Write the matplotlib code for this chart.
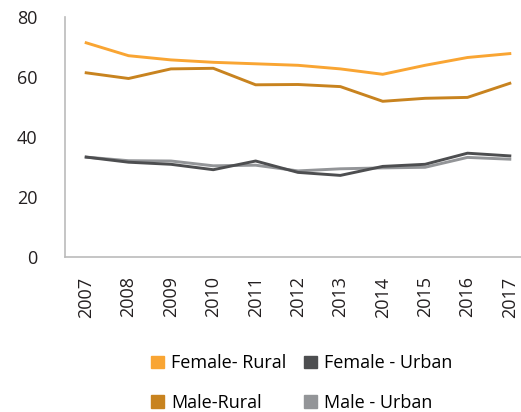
import matplotlib.pyplot as plt
from matplotlib.patches import Patch

years = ["2007", "2008", "2009", "2010", "2011", "2012", "2013", "2014", "2015", "2016", "2017"]
female_rural = [71.4, 67.1, 65.7, 64.9, 64.4, 63.9, 62.7, 60.9, 63.9, 66.5, 67.8]
male_rural = [61.4, 59.5, 62.7, 62.9, 57.4, 57.5, 56.8, 51.9, 52.9, 53.2, 57.9]
female_urban = [33.3, 31.6, 30.9, 29.1, 32.0, 28.2, 27.2, 30.2, 30.9, 34.6, 33.7]
male_urban = [33.3, 32.1, 32.0, 30.4, 30.6, 28.7, 29.4, 29.7, 29.9, 33.2, 32.6]

# legend fills column by column: first column = rural, second = urban
labels = ["Female- Rural", "Male-Rural", "Female - Urban", "Male - Urban"]
colors = ["#F9A533", "#C8831F", "#4D4E50", "#939598"]

plt.rcParams['font.family'] = ['Open Sans', 'DejaVu Sans']

fig = plt.figure(figsize=(5.21, 4.12), dpi=100)
ax = fig.add_axes([65 / 521, (412 - 257) / 412, (531 - 65) / 521, 240 / 412])

x = range(len(years))
ax.plot(x, male_urban, color=colors[3], lw=2.1)
ax.plot(x, female_urban, color=colors[2], lw=2.1)
ax.plot(x, male_rural, color=colors[1], lw=2.1)
ax.plot(x, female_rural, color=colors[0], lw=2.1)

ax.set_xlim(-0.5, len(years) - 0.5)
ax.set_ylim(0, 80)
ax.set_yticks([0, 20, 40, 60, 80])
ax.set_xticks(list(x))
ax.set_xticklabels(years, rotation=90)
ax.tick_params(axis='y', length=0, pad=20, labelsize=13, labelcolor="#231F20")
ax.tick_params(axis='x', length=0, pad=14, labelsize=13, labelcolor="#231F20")
for s in ["top", "right"]:
    ax.spines[s].set_visible(False)
for s in ["left", "bottom"]:
    ax.spines[s].set_color("#BBBBBB")
    ax.spines[s].set_linewidth(1.2)

handles = [Patch(color=c) for c in colors]
fig.legend(handles, labels, ncol=2, loc="center", bbox_to_anchor=(302 / 521, 1 - 383 / 412),
           frameon=False, fontsize=13, handlelength=0.7, handleheight=0.7,
           handletextpad=0.4, columnspacing=1.0, labelspacing=1.2)

fig.savefig("out.png", dpi=100)
